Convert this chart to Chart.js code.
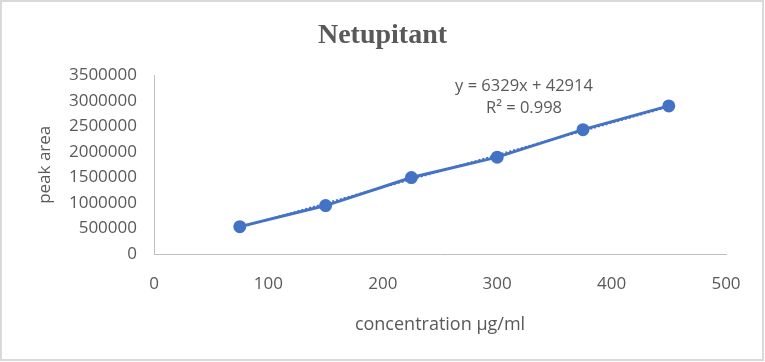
<!DOCTYPE html>
<html lang="en">
<head>
    <meta charset="UTF-8">
    <title>Netupitant</title>
    <script src="https://cdn.jsdelivr.net/npm/chart.js@4/dist/chart.umd.min.js"></script>
    <style>
        body {
            margin: 0;
            padding: 0;
            background: white;
        }
        .wrap {
            width: 765px;
            height: 362px;
        }
    </style>
</head>
<body>
    <div class="wrap">
        <canvas id="calCanvas" width="765" height="362"></canvas>
    </div>
    <script>
        // concentration (µg/ml) and measured peak area
        const concentrations = [75, 150, 225, 300, 375, 450];
        const peakAreas = [537000, 950000, 1500000, 1900000, 2440000, 2905000];

        // linear trendline as printed on the chart
        const slope = 6329;
        const intercept = 42914;
        const rSquared = '0.998';
        const trendX = [75, 450];

        const textGrey = '#595959';
        const blue = '#4472C4';

        // white background + light frame round the chart
        const framePlugin = {
            id: 'frame',
            beforeDraw(chart) {
                const c = chart.ctx;
                c.save();
                c.fillStyle = 'white';
                c.fillRect(0, 0, chart.width, chart.height);
                c.strokeStyle = '#d9d9d9';
                c.lineWidth = 2;
                c.strokeRect(1, 1, chart.width - 3, chart.height - 3);
                c.restore();
            }
        };

        // equation label of the trendline
        const equationPlugin = {
            id: 'equation',
            afterDatasetsDraw(chart) {
                const c = chart.ctx;
                c.save();
                c.fillStyle = textGrey;
                c.font = '16.5px "Open Sans"';
                c.textAlign = 'center';
                c.textBaseline = 'middle';
                c.fillText('y = ' + slope + 'x + ' + intercept, 524, 86);
                c.fillText('R² = ' + rSquared, 524, 108);
                c.restore();
            }
        };

        const ctx = document.getElementById('calCanvas').getContext('2d');
        const calChart = new Chart(ctx, {
            type: 'scatter',
            data: {
                datasets: [{
                    label: 'peak area',
                    data: concentrations.map((x, i) => ({ x: x, y: peakAreas[i] })),
                    showLine: true,
                    borderColor: blue,
                    backgroundColor: blue,
                    borderWidth: 3,
                    pointRadius: 5,
                    pointHoverRadius: 5,
                    order: 1
                }, {
                    label: 'Linear (peak area)',
                    data: trendX.map(x => ({ x: x, y: slope * x + intercept })),
                    showLine: true,
                    borderColor: blue,
                    borderWidth: 2,
                    borderDash: [2, 2],
                    pointRadius: 0,
                    order: 2
                }]
            },
            options: {
                responsive: false,
                animation: false,
                layout: { padding: { left: 39, right: 39, top: 0, bottom: 0 } },
                plugins: {
                    legend: { display: false },
                    tooltip: { enabled: false },
                    title: {
                        display: true,
                        text: 'Netupitant',
                        color: textGrey,
                        font: { family: '"Liberation Serif"', size: 28, weight: 'bold', lineHeight: 1.2 },
                        padding: { top: 19, bottom: 23 }
                    }
                },
                scales: {
                    x: {
                        type: 'linear',
                        min: 0,
                        max: 500,
                        ticks: {
                            stepSize: 100,
                            color: textGrey,
                            padding: 20,
                            font: { family: '"Open Sans"', size: 17 }
                        },
                        grid: { display: false, drawTicks: false },
                        border: { display: true, color: '#bfbfbf', width: 1 },
                        title: {
                            display: true,
                            text: 'concentration µg/ml',
                            color: textGrey,
                            font: { family: '"Open Sans"', size: 18 },
                            padding: { top: 0, bottom: 26 }
                        },
                        afterFit(scale) { scale.height = 108; }
                    },
                    y: {
                        type: 'linear',
                        min: 0,
                        max: 3500000,
                        ticks: {
                            stepSize: 500000,
                            color: textGrey,
                            padding: 17,
                            font: { family: '"Open Sans"', size: 17 },
                            callback: v => String(v)
                        },
                        grid: { display: false, drawTicks: false },
                        border: { display: true, color: '#bfbfbf', width: 1 },
                        title: {
                            display: true,
                            text: 'peak area',
                            color: textGrey,
                            font: { family: '"Open Sans"', size: 17 },
                            padding: { top: -4, bottom: 0 }
                        },
                        afterFit(scale) { scale.width = 115; }
                    }
                }
            },
            plugins: [framePlugin, equationPlugin]
        });
    </script>
</body>
</html>
